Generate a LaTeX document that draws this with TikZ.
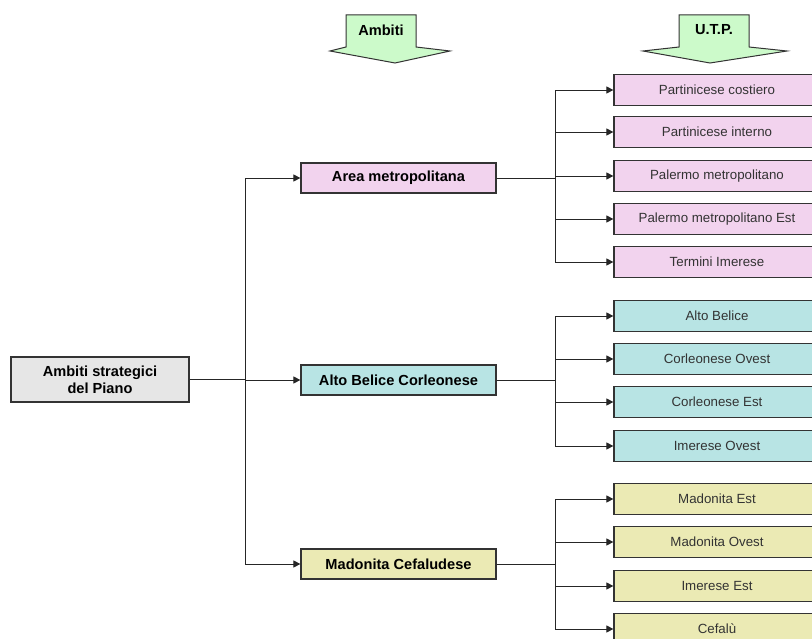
\documentclass[tikz,border=0pt]{standalone}
\usepackage{fontspec}
\setmainfont{Liberation Sans}
\usetikzlibrary{arrows.meta, positioning}
\definecolor{mPink}{HTML}{F2D3EE}
\definecolor{mCyan}{HTML}{B8E4E4}
\definecolor{mOlive}{HTML}{EBEAB4}
\definecolor{mGrey}{HTML}{E6E6E6}
\definecolor{mGreen}{HTML}{CCFACA}
\definecolor{mLine}{HTML}{333333}
\begin{document}
\begin{tikzpicture}[x=1pt, y=-1pt,
      >={Triangle[length=7pt, width=7pt]},
      box/.style={draw=mLine, line width=1.2pt, inner sep=2pt,
                  font=\fontsize{14.6}{17}\selectfont\bfseries},
      ambito/.style={box, minimum width=195pt, minimum height=30pt},
      utp/.style={draw=mLine, line width=1.2pt, minimum width=206pt, minimum height=31pt,
                  font=\fontsize{13.3}{15}\selectfont, text=black!80},
      link/.style={draw=black!85, line width=0.9pt},
      hdr/.style={font=\fontsize{14.6}{17}\selectfont\bfseries}]
    \clip (0,0) rectangle (812,639);
    \fill[white] (0,0) rectangle (812,639);
    % column headers
    \draw[mLine, line width=1pt, fill=mGreen]
      (346,15) -- (416,15) -- (416,47) -- (450,51) -- (395,63) -- (330,51) -- (346,47) -- cycle;
    \node[hdr] (hAmbiti) at (381,30) {Ambiti};
    \draw[mLine, line width=1pt, fill=mGreen]
      (679,15) -- (749,15) -- (749,47) -- (787,51) -- (710,63) -- (643,51) -- (679,47) -- cycle;
    \node[hdr] (hUtp) at (714,30) {U.T.P.};
    % root
    \node[box, fill=mGrey, minimum width=178pt, minimum height=45pt, align=center]
      (root) at (100,379.5) {Ambiti strategici\\del Piano};
    % ambiti
    \foreach \n/\y/\c/\t in {am/178/mPink/Area metropolitana,
                             ab/380/mCyan/Alto Belice Corleonese,
                             mc/564/mOlive/Madonita Cefaludese} {
      \node[ambito, fill=\c] (\n) at (398.5,\y) {\t};
      \draw[link, ->] (root.east) -- ++(56,0) |- (\n.west);
    }
    % U.T.P.
    \foreach \n/\p/\y/\c/\t in {u1/am/90/mPink/Partinicese costiero,
                                u2/am/132/mPink/Partinicese interno,
                                u3/am/176/mPink/Palermo metropolitano,
                                u4/am/219/mPink/Palermo metropolitano Est,
                                u5/am/262/mPink/Termini Imerese,
                                u6/ab/316/mCyan/Alto Belice,
                                u7/ab/359/mCyan/Corleonese Ovest,
                                u8/ab/402/mCyan/Corleonese Est,
                                u9/ab/446/mCyan/Imerese Ovest,
                                u10/mc/499/mOlive/Madonita Est,
                                u11/mc/542/mOlive/Madonita Ovest,
                                u12/mc/586/mOlive/Imerese Est,
                                u13/mc/629/mOlive/Cefalù} {
      \node[utp, fill=\c] (\n) at (717,\y) {\t};
      \draw[link, ->] (\p.east) -- ++(59,0) |- (\n.west);
    }
  \end{tikzpicture}
\end{document}
